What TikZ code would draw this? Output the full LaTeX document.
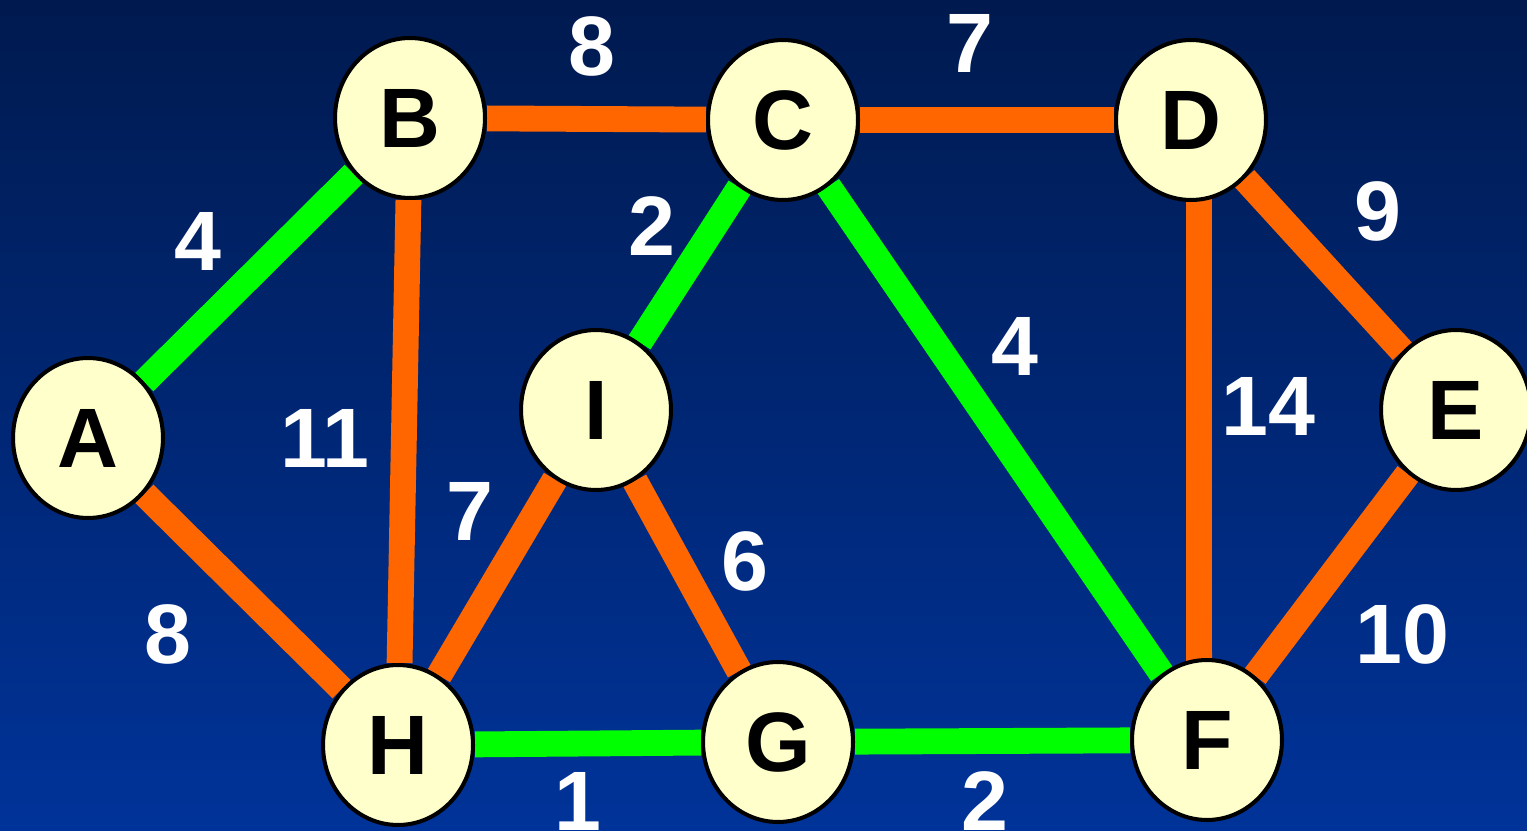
\documentclass[tikz,border=0pt]{standalone}
\usepackage{fontspec}
\setmainfont{Liberation Sans}
\usetikzlibrary{shapes.geometric,backgrounds}
\definecolor{edgeorange}{HTML}{FF6600}
\definecolor{edgegreen}{HTML}{00FF00}
\definecolor{vertexfill}{HTML}{FFFFCC}
\definecolor{bgtop}{HTML}{001A4F}
\definecolor{bgmid}{HTML}{002C85}
\definecolor{bgbot}{HTML}{003399}

\begin{document}
\begin{tikzpicture}[x=0.02cm,y=-0.02cm,
    vertex/.style={ellipse,draw=black,line width=2.3pt,fill=vertexfill,
        minimum width=3cm,minimum height=3.2cm,inner sep=0pt,
        font=\fontsize{48}{48}\selectfont\bfseries},
    weight/.style={text=white,inner sep=0pt,font=\fontsize{48}{48}\selectfont\bfseries},
    tree/.style={draw=edgegreen,line width=14.7pt},
    other/.style={draw=edgeorange,line width=14.7pt}]
    \useasboundingbox (0,0) rectangle (1527,831);

    % vertices
    \node[vertex] (A) at (88, 438) {A};
    \node[vertex] (B) at (410, 118) {B};
    \node[vertex] (C) at (783, 120) {C};
    \node[vertex] (D) at (1191, 120) {D};
    \node[vertex] (E) at (1456, 410) {E};
    \node[vertex] (I) at (596, 410) {I};
    \node[vertex] (H) at (398, 745) {H};
    \node[vertex] (G) at (778, 742) {G};
    \node[vertex] (F) at (1207, 740) {F};

    % weights
    \node[weight] (wBC) at (592, 46) {8};
    \node[weight] (wCD) at (970, 43) {7};
    \node[weight] (wAB) at (198, 241) {4};
    \node[weight] (wCI) at (652, 226) {2};
    \node[weight] (wCF) at (1015, 346) {4};
    \node[weight] (wDE) at (1378, 211) {9};
    \node[weight] (wDF) at (1268, 406) {14};
    \node[weight] (wBH) at (325, 438) {11};
    \node[weight] (wHI) at (470, 511) {7};
    \node[weight] (wIG) at (745, 561) {6};
    \node[weight] (wAH) at (168, 634) {8};
    \node[weight] (wHG) at (578, 801) {1};
    \node[weight] (wGF) at (985, 801) {2};
    \node[weight] (wEF) at (1402, 634) {10};

    \begin{pgfonlayer}{background}
    \shade[top color=bgtop, middle color=bgmid, bottom color=bgbot] (0,0) rectangle (1527,831);

    \draw[tree] (A) -- (B); % spanning tree
    \draw[tree] (C) -- (I);
    \draw[tree] (C) -- (F);
    \draw[tree] (H) -- (G);
    \draw[tree] (G) -- (F);

    \draw[other] (B) -- (C); % rest
    \draw[other] (C) -- (D);
    \draw[other] (D) -- (E);
    \draw[other] ([xshift=4.5pt]D.center) -- ([xshift=-4.5pt]F.center);
    \draw[other] (E) -- (F);
    \draw[other] (A) -- (H);
    \draw[other] (B) -- (H);
    \draw[other] (I) -- (H);
    \draw[other] (I) -- (G);
    \end{pgfonlayer}
\end{tikzpicture}
\end{document}
